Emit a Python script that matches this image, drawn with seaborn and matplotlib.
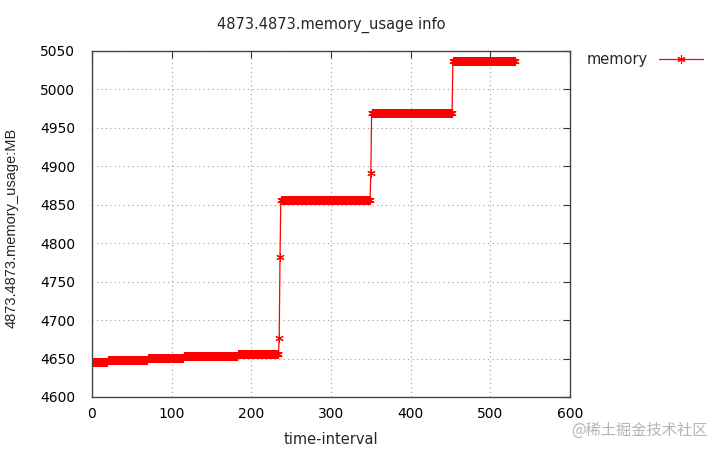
import numpy as np
import pandas as pd
import seaborn as sns
import matplotlib.pyplot as plt

# memory levels (MB) and how many consecutive samples stay at each level
levels = [4646, 4648, 4651, 4653, 4656, 4677, 4782, 4856, 4891, 4969, 5037]
counts = [20, 50, 45, 68, 52, 1, 1, 113, 1, 102, 79]

x_ticks = [0, 100, 200, 300, 400, 500, 600]
y_ticks = [4600, 4650, 4700, 4750, 4800, 4850, 4900, 4950, 5000, 5050]

mem = np.repeat(levels, counts)
df = pd.DataFrame({"time-interval": np.arange(len(mem)), "memory": mem})

sns.set_style("white")
plt.rcParams["font.family"] = ["DejaVu Sans", "Noto Sans CJK SC"]

fig = plt.figure(figsize=(7.23, 4.54), dpi=100)
ax = fig.add_axes([92 / 723, 1 - 397 / 454, (570 - 92) / 723, (397 - 51) / 454])

sns.lineplot(data=df, x="time-interval", y="memory", ax=ax, color="#ff0000",
             linewidth=0.9, marker=(6, 2, 0), markersize=6, markeredgewidth=0.8,
             markeredgecolor="#ff0000", label="memory")

ax.set_xlim(0, 600)
ax.set_ylim(4600, 5050)
ax.set_xticks(x_ticks)
ax.set_yticks(y_ticks)
ax.grid(True, linestyle=(0, (1, 3)), color="#a0a0a0", linewidth=0.8)
ax.tick_params(direction="in", top=True, right=True, length=5, labelsize=10,
               colors="#333333", labelcolor="black")
ax.tick_params(axis="y", pad=12)
ax.tick_params(axis="x", pad=7)
for s in ax.spines.values():
    s.set_color("#444444")
    s.set_linewidth(1.0)

ax.set_title("4873.4873.memory_usage info", fontsize=10.5, pad=16)
ax.set_xlabel("time-interval", fontsize=10.5, labelpad=8)
ax.set_ylabel("4873.4873.memory_usage:MB", fontsize=10.5,
              family=["Liberation Sans", "DejaVu Sans"])
ax.yaxis.set_label_coords(-0.153, 0.49)

leg = ax.legend(loc="upper left", bbox_to_anchor=(1.022, 1.014), frameon=False,
                markerfirst=False, fontsize=10.5, handlelength=3.0, borderaxespad=0)

fig.text(0.979, 0.052, "@稀土掘金技术社区", ha="right", va="center", fontsize=11,
         color="#b5b5b5", family=["Noto Sans CJK SC", "DejaVu Sans"])

fig.savefig("out.png", dpi=100)
